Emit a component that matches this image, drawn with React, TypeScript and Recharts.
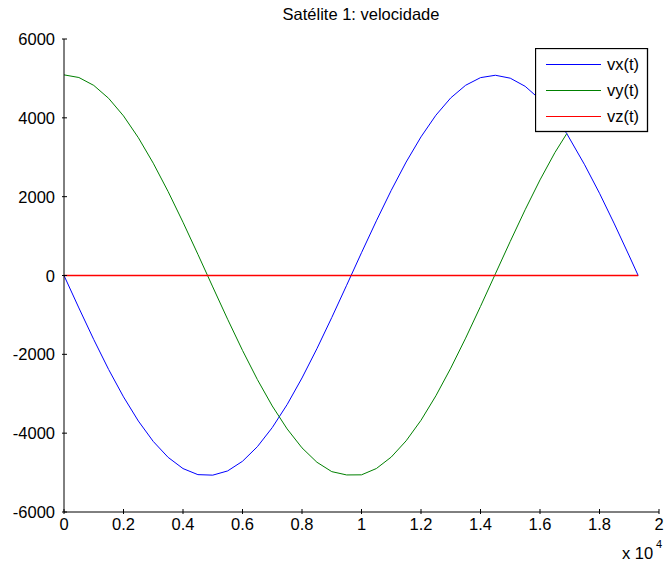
import React from 'react';
import { LineChart, Line, XAxis, YAxis } from 'recharts';

// time in units of 1e4 s
const tValues = [
  0, 0.05, 0.1, 0.15, 0.2, 0.25, 0.3, 0.35, 0.4, 0.45, 0.5, 0.55, 0.6, 0.65, 0.7, 0.75, 0.8, 0.85, 0.9, 0.95,
  1.0, 1.05, 1.1, 1.15, 1.2, 1.25, 1.3, 1.35, 1.4, 1.45, 1.5, 1.55, 1.6, 1.65, 1.69, 1.75, 1.8, 1.85, 1.9, 1.93,
];
const vxValues = [
  0, -823, -1625, -2384, -3079, -3693, -4210, -4614, -4898, -5052, -5065, -4958, -4713, -4343, -3859, -3274, -2600, -1858, -1067, -248,
  578, 1387, 2161, 2878, 3517, 4066, 4506, 4826, 5020, 5080, 5006, 4800, 4467, 4016, 3600, 2809, 2086, 1308, 496, 0,
];
const vyValues = [
  5090, 5023, 4823, 4495, 4049, 3495, 2849, 2129, 1351, 538, -290, -1110, -1900, -2640, -3310, -3892, -4373, -4737, -4976, -5060,
  -5057, -4897, -4606, -4194, -3673, -3052, -2350, -1589, -784, 42, 865, 1667, 2425, 3118, 3600,
];
const vzValues = tValues.map(() => 0);

const xTicks = [0, 0.2, 0.4, 0.6, 0.8, 1, 1.2, 1.4, 1.6, 1.8, 2];
const yTicks = [-6000, -4000, -2000, 0, 2000, 4000, 6000];

const seriesNames = ['vx(t)', 'vy(t)', 'vz(t)'];
const seriesColors = ['#0000ff', '#008000', '#ff0000'];

const data = tValues.map((t, i) => ({
  t,
  vx: vxValues[i],
  vy: i < vyValues.length ? vyValues[i] : null,
  vz: vzValues[i],
}));

const FONT = '"Liberation Sans", Arial, sans-serif';
const FS = 16.5;
const TICK_LEN = 5;

const BottomTick = (props: any) => {
  const { x, y, payload } = props;
  return (
    <g>
      <line x1={x} x2={x} y1={y} y2={y - TICK_LEN} stroke="#000" />
      <text x={x} y={y + 16} textAnchor="middle" fontSize={FS} fontFamily={FONT} fill="#000">
        {String(payload.value)}
      </text>
    </g>
  );
};

const TopTick = (props: any) => {
  const { x, y } = props;
  return <line x1={x} x2={x} y1={y} y2={y + TICK_LEN} stroke="#000" />;
};

const LeftTick = (props: any) => {
  const { x, y, payload } = props;
  return (
    <g>
      <line x1={x} x2={x + TICK_LEN} y1={y} y2={y} stroke="#000" />
      <text x={x - 7} y={y + 6} textAnchor="end" fontSize={FS} fontFamily={FONT} fill="#000">
        {String(payload.value)}
      </text>
    </g>
  );
};

const RightTick = (props: any) => {
  const { x, y } = props;
  return <line x1={x} x2={x - TICK_LEN} y1={y} y2={y} stroke="#000" />;
};

// legend box, MATLAB style, laid over the axes (top-right)
const LegendBox = () => (
  <svg width={114} height={85} style={{ position: 'absolute', left: 535, top: 48, display: 'block' }}>
    <rect x={0.5} y={0.5} width={112} height={83} fill="#fff" stroke="#000" strokeWidth={1.3} />
    {seriesNames.map((name, i) => (
      <g key={name}>
        <line x1={11} x2={66} y1={16.5 + i * 26} y2={16.5 + i * 26} stroke={seriesColors[i]} strokeWidth={1} />
        <text x={72} y={22 + i * 26} fontSize={FS} fontFamily={FONT} fill="#000">
          {name}
        </text>
      </g>
    ))}
  </svg>
);

export default function App() {
  return (
    <div style={{ position: 'absolute', left: 0, top: 0, width: 666, height: 572, background: '#fff' }}>
      <LineChart width={666} height={572} data={data} margin={{ top: 39, right: 7, bottom: 0, left: 0 }}>
        <XAxis
          dataKey="t"
          type="number"
          domain={[0, 2]}
          ticks={xTicks}
          tick={<BottomTick />}
          tickLine={false}
          tickSize={0}
          axisLine={{ stroke: '#000' }}
          height={60}
          interval={0}
        />
        <XAxis
          xAxisId="top"
          orientation="top"
          dataKey="t"
          type="number"
          domain={[0, 2]}
          ticks={xTicks}
          tick={<TopTick />}
          tickLine={false}
          tickSize={0}
          axisLine={{ stroke: '#000' }}
          height={0}
          interval={0}
        />
        <YAxis
          type="number"
          domain={[-6000, 6000]}
          ticks={yTicks}
          tick={<LeftTick />}
          tickLine={false}
          tickSize={0}
          axisLine={{ stroke: '#000' }}
          width={64}
          interval={0}
        />
        <YAxis
          yAxisId="right"
          orientation="right"
          type="number"
          domain={[-6000, 6000]}
          ticks={yTicks}
          tick={<RightTick />}
          tickLine={false}
          tickSize={0}
          axisLine={{ stroke: '#000' }}
          width={0}
          interval={0}
        />
        <Line dataKey="vx" name={seriesNames[0]} stroke={seriesColors[0]} dot={false} strokeWidth={1} isAnimationActive={false} />
        <Line dataKey="vy" name={seriesNames[1]} stroke={seriesColors[1]} dot={false} strokeWidth={1} isAnimationActive={false} />
        <Line dataKey="vz" name={seriesNames[2]} stroke={seriesColors[2]} dot={false} strokeWidth={1.3} isAnimationActive={false} />
        <text x={361} y={20} textAnchor="middle" fontSize={FS} fontFamily={FONT} fill="#000">
          Satélite 1: velocidade
        </text>
        <text x={622} y={559} fontSize={FS} fontFamily={FONT} fill="#000">
          x 10
        </text>
        <text x={656} y={548} fontSize={11} fontFamily={FONT} fill="#000">
          4
        </text>
      </LineChart>
      <LegendBox />
    </div>
  );
}
